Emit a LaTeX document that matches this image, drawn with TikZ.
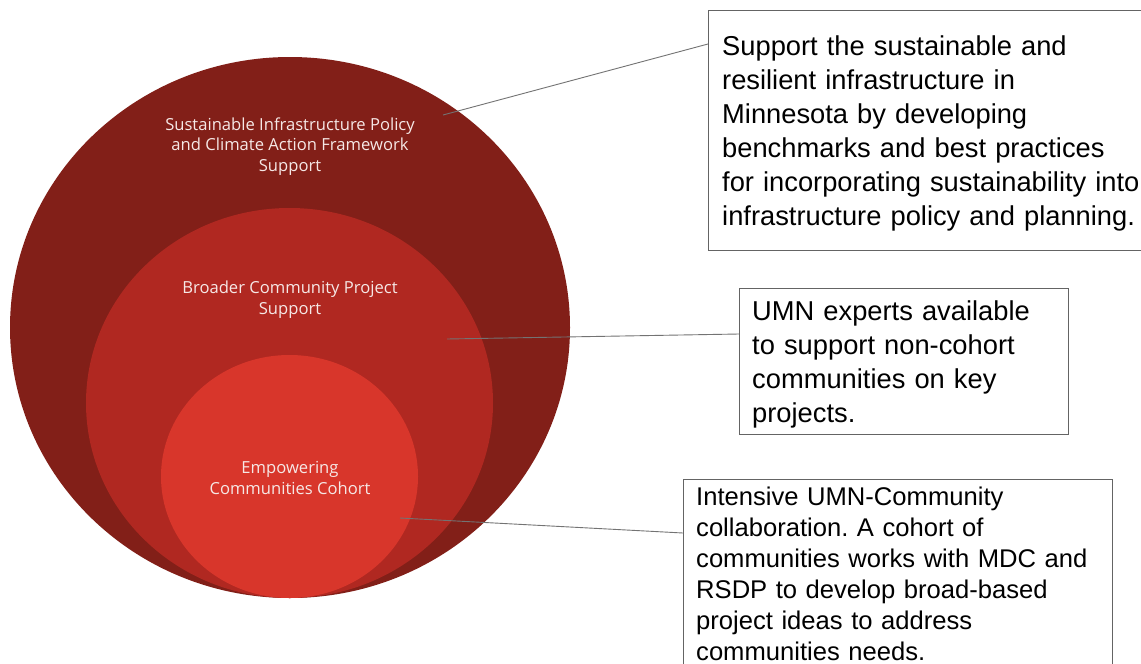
\documentclass[tikz,border=0pt]{standalone}
\usepackage{fontspec}
\setmainfont{Liberation Sans}
\newfontfamily\circfont{Open Sans}
\usetikzlibrary{shapes.geometric}
\definecolor{outerc}{RGB}{130,31,24}
\definecolor{midc}{RGB}{176,40,33}
\definecolor{innerc}{RGB}{216,54,43}
\definecolor{linec}{RGB}{115,115,115}
\definecolor{boxc}{RGB}{100,100,100}
\definecolor{ctext}{RGB}{246,232,230}
\frenchspacing
\tikzset{
  disc/.style={ellipse, draw=none, inner sep=0pt, outer sep=0pt},
  ctxt/.style={align=center, text=ctext, inner sep=0pt,
    font=\circfont\fontsize{16.6}{20.7}\selectfont},
  infobox/.style={draw=boxc, line width=1pt, fill=white,
    anchor=north west, inner sep=0pt, outer sep=0pt},
  btxt/.style={align=left, inner sep=0pt, text=black},
  conn/.style={draw=linec, line width=0.9pt}
}
\begin{document}
\begin{tikzpicture}[x=1pt,y=-1pt]
\useasboundingbox (0,0) rectangle (1141,664);
\fill[white] (0,0) rectangle (1141,664);
% nested circles
\node[disc, fill=outerc, minimum width=560pt, minimum height=541pt] (outer) at (290,327.5) {};
\node[disc, fill=midc, minimum width=407pt, minimum height=390pt] (middle) at (289.5,403) {};
\node[disc, fill=innerc, minimum width=257pt, minimum height=243pt] (inner) at (289.5,476.5) {};
% circle labels
\node[ctxt] (t1) at (290,146.5) {Sustainable Infrastructure Policy\\and Climate Action Framework\\Support};
\node[ctxt] (t2) at (290,300) {Broader Community Project\\Support};
\node[ctxt] (t3) at (290,478) {Empowering\\Communities Cohort};
% description boxes
\node[infobox, minimum width=460pt, minimum height=240pt] (b1) at (708,10) {};
\node[infobox, minimum width=329pt, minimum height=146pt] (b2) at (739,288) {};
\node[infobox, minimum width=429pt, minimum height=230pt] (b3) at (683,479) {};
% box texts
\node[btxt, anchor=west, text width=440pt, font=\fontsize{27.3}{34}\selectfont] (d1) at (722,133)
  {Support the sustainable and\\resilient infrastructure in\\Minnesota by developing\\benchmarks and best practices\\for incorporating sustainability into\\infrastructure policy and planning.};
\node[btxt, anchor=west, text width=303pt, font=\fontsize{27.3}{34}\selectfont] (d2) at (752,364)
  {UMN experts available\\to support non-cohort\\communities on key\\projects.};
\node[btxt, anchor=north west, text width=403pt, font=\fontsize{25.6}{31}\selectfont] (d3) at (696,487)
  {Intensive UMN-Community\\collaboration. A cohort of\\communities works with MDC and\\RSDP to develop broad-based\\project ideas to address\\communities needs.};
% connector anchors inside the circles
\coordinate (p1) at (443,115);
\coordinate (p2) at (447,339);
\coordinate (p3) at (400,518);
\draw[conn] (p1) -- ([yshift=-34pt]b1.north west);
\draw[conn] (p2) -- ([yshift=-46pt]b2.north west);
\draw[conn] (p3) -- ([yshift=-54pt]b3.north west);
\end{tikzpicture}
\end{document}
